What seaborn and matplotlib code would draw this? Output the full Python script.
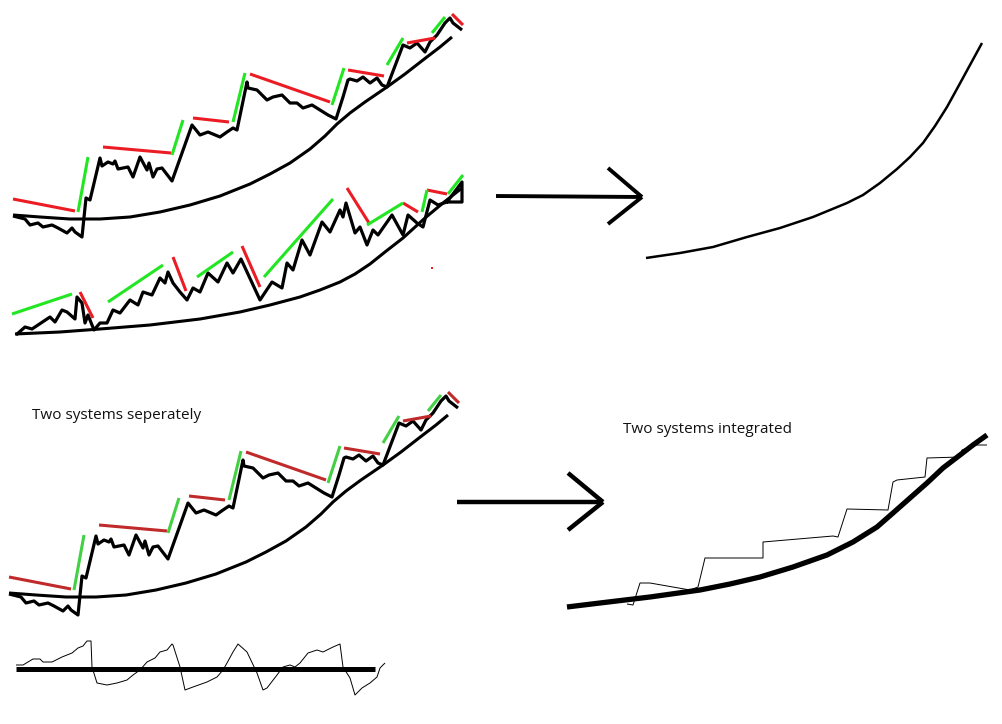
import matplotlib
matplotlib.use("Agg")
import matplotlib.pyplot as plt
import numpy as np
import seaborn as sns

sns.set_theme(style="white")
plt.rcParams["font.family"] = ["Open Sans", "DejaVu Sans"]

# ---------------------------------------------------------------------------
# Sketch data (canvas units: x to the right, y downwards)
# ---------------------------------------------------------------------------

# System A: trend-following price path with its long-term growth curve
a_price_x = [13, 25, 30, 38, 43, 52, 58, 67, 72, 75, 82, 86, 90, 100, 102, 108, 113, 115, 118, 123,
             128, 133, 140, 147, 149, 153, 157, 162, 172, 192, 200, 208, 220, 227, 233, 237, 247, 248,
             257, 267, 273, 282, 290, 297, 303, 312, 320, 328, 336, 343, 348, 350, 357, 363, 370, 377,
             382, 387, 403, 410, 417, 425, 430, 437, 445, 450, 453, 462]
a_price_y = [216, 219, 225, 223, 227, 225, 228, 233, 228, 232, 237, 198, 200, 158, 166, 162, 164, 161, 169, 168,
             167, 177, 157, 170, 163, 177, 169, 168, 181, 125, 135, 132, 137, 132, 128, 130, 82, 88,
             90, 100, 97, 95, 103, 103, 108, 105, 110, 115, 119, 97, 80, 79, 81, 77, 83, 78,
             85, 87, 45, 48, 43, 52, 42, 35, 23, 18, 23, 30]
a_curve_x = [13, 40, 70, 100, 130, 160, 190, 220, 250, 270, 290, 310, 325, 337, 350, 365, 387, 405,
             423, 440, 452]
a_curve_y = [215, 217, 219, 219, 217, 212, 205, 196, 184, 174, 163, 149, 136, 124, 113, 102, 87, 74,
             60, 47, 37]

# Rising legs (green) and fading legs (red) of system A: [x0, x1], [y0, y1]
a_up_x = [[78, 88], [172, 183], [233, 245], [332, 344], [387, 403], [432, 445]]
a_up_y = [[212, 157], [155, 120], [122, 73], [105, 68], [65, 38], [33, 17]]
a_down_x = [[13, 75], [103, 171], [193, 229], [250, 330], [348, 384], [407, 435], [452, 463]]
a_down_y = [[199, 211], [147, 153], [118, 122], [74, 102], [70, 76], [43, 38], [14, 25]]

# System B: mean-reverting price path with its growth curve
b_price_x = [16, 25, 32, 50, 55, 62, 67, 75, 77, 82, 85, 88, 94, 100, 107, 113, 120, 130, 138, 143,
             152, 160, 165, 168, 173, 180, 187, 193, 200, 208, 218, 227, 233, 241, 260, 272, 282, 287,
             293, 302, 310, 322, 330, 340, 343, 346, 355, 360, 367, 373, 378, 392, 403, 408, 417, 423,
             430, 438, 447, 462, 462, 447]
b_price_y = [335, 327, 329, 317, 322, 310, 312, 319, 297, 303, 323, 315, 330, 323, 323, 310, 313, 300, 305, 292,
             295, 278, 283, 272, 283, 292, 300, 288, 292, 273, 282, 263, 273, 259, 300, 282, 288, 263,
             270, 240, 255, 222, 232, 210, 217, 203, 233, 227, 245, 230, 235, 215, 235, 215, 223, 227,
             200, 205, 202, 182, 202, 202]
b_curve_x = [15, 60, 100, 150, 200, 240, 270, 300, 320, 340, 355, 370, 385, 403, 425, 443, 462]
b_curve_y = [334, 332, 329, 325, 319, 312, 305, 297, 290, 282, 274, 264, 252, 238, 218, 203, 188]

b_up_x = [[12, 72], [108, 163], [197, 233], [264, 333], [367, 403], [422, 427], [448, 463]]
b_up_y = [[314, 294], [302, 265], [277, 252], [277, 199], [225, 203], [212, 190], [194, 175]]
b_down_x = [[80, 93], [173, 186], [242, 260], [347, 369], [403, 418], [427, 447]]
b_down_y = [[292, 318], [257, 291], [246, 287], [188, 223], [203, 212], [190, 194]]
b_mark_x = [432]
b_mark_y = [268]

# Combined growth curve (top right)
combo_x = [646, 680, 713, 747, 780, 813, 847, 863, 880, 897, 910, 923, 935, 947, 958, 970, 982]
combo_y = [258, 253, 247, 237, 228, 217, 203, 195, 183, 169, 157, 143, 126, 107, 87, 65, 43]

# Integrated view: smooth trend plus stepped equity path
int_curve_x = [567, 600, 650, 700, 730, 760, 793, 827, 853, 877, 893, 910, 927, 943, 960, 973, 987]
int_curve_y = [607, 603, 597, 590, 584, 577, 567, 555, 542, 527, 513, 498, 483, 468, 455, 445, 435]
int_step_x = [627, 633, 640, 650, 690, 698, 705, 763, 763, 833, 838, 847, 888, 893, 897, 925, 927,
              960, 962, 967, 973, 987]
int_step_y = [604, 605, 583, 583, 590, 587, 558, 558, 542, 536, 537, 509, 510, 482, 480, 477, 458,
              457, 450, 448, 445, 445]

# Oscillator under the separate view
osc_x = [16, 23, 33, 40, 43, 52, 62, 72, 78, 83, 87, 91, 92, 97, 107, 117, 127, 133, 140, 147,
         155, 160, 167, 172, 173, 180, 185, 193, 207, 217, 223, 227, 233, 238, 247, 257, 263, 267,
         277, 283, 290, 295, 300, 308, 317, 323, 333, 340, 343, 350, 355, 362, 370, 377, 380, 385]
osc_y = [665, 665, 659, 659, 662, 662, 657, 653, 648, 646, 641, 641, 667, 683, 685, 683, 680, 675, 670, 662,
         658, 652, 650, 644, 645, 667, 690, 687, 682, 677, 670, 663, 652, 644, 652, 673, 690, 688,
         675, 667, 665, 667, 663, 653, 650, 652, 647, 644, 667, 678, 695, 688, 683, 677, 668, 663]
osc_base_x = [16, 375]
osc_base_y = [669, 669]

# Arrows: shaft and the two head strokes
arrow1_x = [[496, 642], [608, 642], [608, 642]]
arrow1_y = [[196, 197], [168, 197], [224, 197]]
arrow2_x = [[457, 603], [568, 603], [568, 603]]
arrow2_y = [[502, 502], [473, 502], [530, 502]]

captions = ["Two systems seperately", "Two systems integrated"]

# ---------------------------------------------------------------------------
# Drawing
# ---------------------------------------------------------------------------
fig = plt.figure(figsize=(10.03, 7.24), dpi=100)
ax = fig.add_axes([0, 0, 1, 1])

BLACK = "#000000"
RED = "#ec1c24"
GREEN = "#22e622"
RED_DARK = "#c02a2a"
GREEN_DARK = "#44d044"

def stroke(xs, ys, color, lw, dx=0, dy=0):
    sns.lineplot(x=np.asarray(xs) + dx, y=np.asarray(ys) + dy, sort=False, estimator=None,
                 color=color, linewidth=lw, ax=ax, solid_joinstyle="round", solid_capstyle="butt")

def system_a(dx, dy, red, green):
    stroke(a_curve_x, a_curve_y, BLACK, 2.2, dx, dy)
    stroke(a_price_x, a_price_y, BLACK, 2.3, dx, dy)
    for xs, ys in zip(a_down_x, a_down_y):
        stroke(xs, ys, red, 2.2, dx, dy)
    for xs, ys in zip(a_up_x, a_up_y):
        stroke(xs, ys, green, 2.2, dx, dy)

# Top-left: system A
system_a(0, 0, RED, GREEN)

# System B
stroke(b_curve_x, b_curve_y, BLACK, 2.2)
stroke(b_price_x, b_price_y, BLACK, 2.3)
for xs, ys in zip(b_down_x, b_down_y):
    stroke(xs, ys, RED, 2.2)
for xs, ys in zip(b_up_x, b_up_y):
    stroke(xs, ys, GREEN, 2.2)
sns.scatterplot(x=b_mark_x, y=b_mark_y, color=RED, marker="s", s=3, linewidth=0, ax=ax)

# Arrow to combined curve
for xs, ys in zip(arrow1_x, arrow1_y):
    stroke(xs, ys, BLACK, 2.8)
stroke(combo_x, combo_y, BLACK, 1.8)

# Bottom-left: system A again with its oscillator
system_a(-4, 378, RED_DARK, GREEN_DARK)
stroke(osc_x, osc_y, BLACK, 0.7)
stroke(osc_base_x, osc_base_y, BLACK, 3.6)

# Arrow to integrated view
for xs, ys in zip(arrow2_x, arrow2_y):
    stroke(xs, ys, BLACK, 3.2)
stroke(int_step_x, int_step_y, BLACK, 0.7)
stroke(int_curve_x, int_curve_y, BLACK, 3.8)

ax.text(32, 419, captions[0], fontsize=11, color="#111111", va="baseline", ha="left")
ax.text(623, 433, captions[1], fontsize=11, color="#111111", va="baseline", ha="left")

ax.set_xlim(0, 1003)
ax.set_ylim(724, 0)
ax.axis("off")
fig.savefig("out.png", dpi=100, facecolor="white")
